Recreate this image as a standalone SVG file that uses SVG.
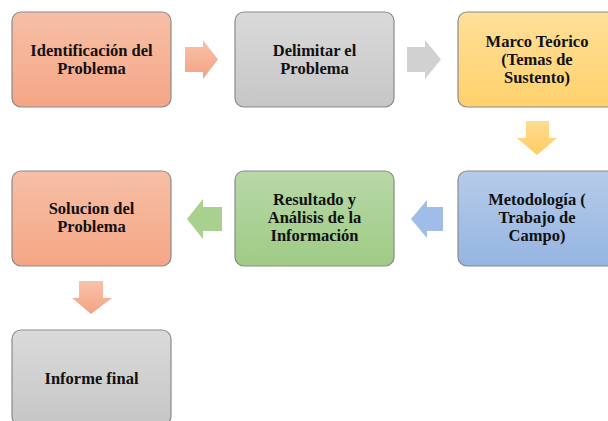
<svg xmlns="http://www.w3.org/2000/svg" width="608" height="421" viewBox="0 0 608 421">
<defs>
<linearGradient id="gSal" x1="0" y1="0" x2="0" y2="1"><stop offset="0" stop-color="#f7bfa6"/><stop offset="1" stop-color="#f4a685"/></linearGradient>
<linearGradient id="gGry" x1="0" y1="0" x2="0" y2="1"><stop offset="0" stop-color="#dadada"/><stop offset="1" stop-color="#c6c6c6"/></linearGradient>
<linearGradient id="gYel" x1="0" y1="0" x2="0" y2="1"><stop offset="0" stop-color="#ffdf99"/><stop offset="1" stop-color="#ffd16c"/></linearGradient>
<linearGradient id="gGrn" x1="0" y1="0" x2="0" y2="1"><stop offset="0" stop-color="#b8d8a8"/><stop offset="1" stop-color="#9fcb85"/></linearGradient>
<linearGradient id="gBlu" x1="0" y1="0" x2="0" y2="1"><stop offset="0" stop-color="#b6cbea"/><stop offset="1" stop-color="#95b5e1"/></linearGradient>
<linearGradient id="aSal" x1="0" y1="0" x2="0" y2="1"><stop offset="0" stop-color="#f8c3ab"/><stop offset="1" stop-color="#f4a282"/></linearGradient>
<linearGradient id="aYel" x1="0" y1="0" x2="0" y2="1"><stop offset="0" stop-color="#ffdc94"/><stop offset="1" stop-color="#ffcb60"/></linearGradient>
</defs>
<style>
.box{stroke:#8a8a8a;stroke-width:1.2}
.t{font-family:"Liberation Serif","Times New Roman","DejaVu Serif",serif;font-weight:bold;font-size:16.5px;fill:#111;text-anchor:middle}
</style>
<g id="connectors">
<path d="M185,47 H203 V40 L218,59.5 L203,79 V72 H185 Z" fill="url(#aSal)"/>
<path d="M407,47 H425 V40 L441,59.5 L425,79 V72 H407 Z" fill="#d1d1d1"/>
<path d="M526,121 H549 V138 H557 L537,155 L517,138 H526 Z" fill="url(#aYel)"/>
<path d="M443,207 H427 V200 L411,219 L427,238 V231 H443 Z" fill="#9fbde6"/>
<path d="M222,207 H203 V199 L187,219 L203,239 V231 H222 Z" fill="#a9d08f"/>
<path d="M79,281 H103 V298 H112 L91,314 L72,298 H79 Z" fill="url(#aSal)"/>
</g>
<g id="n1"><rect class="box" x="12" y="12" width="159" height="95" rx="9" fill="url(#gSal)"/>
<text class="t" x="91.5" y="55.5">Identificación del</text><text class="t" x="91.5" y="73.5">Problema</text></g>
<g id="n2"><rect class="box" x="235" y="12" width="159" height="95" rx="9" fill="url(#gGry)"/>
<text class="t" x="314.5" y="55.5">Delimitar  el</text><text class="t" x="314.5" y="73.5">Problema</text></g>
<g id="n3"><rect class="box" x="458" y="12" width="159" height="95" rx="9" fill="url(#gYel)"/>
<text class="t" x="537" y="46.5">Marco Teórico</text><text class="t" x="537" y="64.5">(Temas de</text><text class="t" x="537" y="82.5">Sustento)</text></g>
<g id="n4"><rect class="box" x="458" y="171" width="159" height="95" rx="9" fill="url(#gBlu)"/>
<text class="t" x="537" y="205">Metodología (</text><text class="t" x="537" y="223">Trabajo de</text><text class="t" x="537" y="241">Campo)</text></g>
<g id="n5"><rect class="box" x="235" y="171" width="159" height="95" rx="9" fill="url(#gGrn)"/>
<text class="t" x="314.5" y="205">Resultado y</text><text class="t" x="314.5" y="223">Análisis  de la</text><text class="t" x="314.5" y="241">Información</text></g>
<g id="n6"><rect class="box" x="12" y="171" width="159" height="95" rx="9" fill="url(#gSal)"/>
<text class="t" x="91.5" y="214">Solucion del</text><text class="t" x="91.5" y="232">Problema</text></g>
<g id="n7"><rect class="box" x="12" y="330" width="159" height="95" rx="9" fill="url(#gGry)"/>
<text class="t" x="91.5" y="384">Informe final</text></g>
</svg>
